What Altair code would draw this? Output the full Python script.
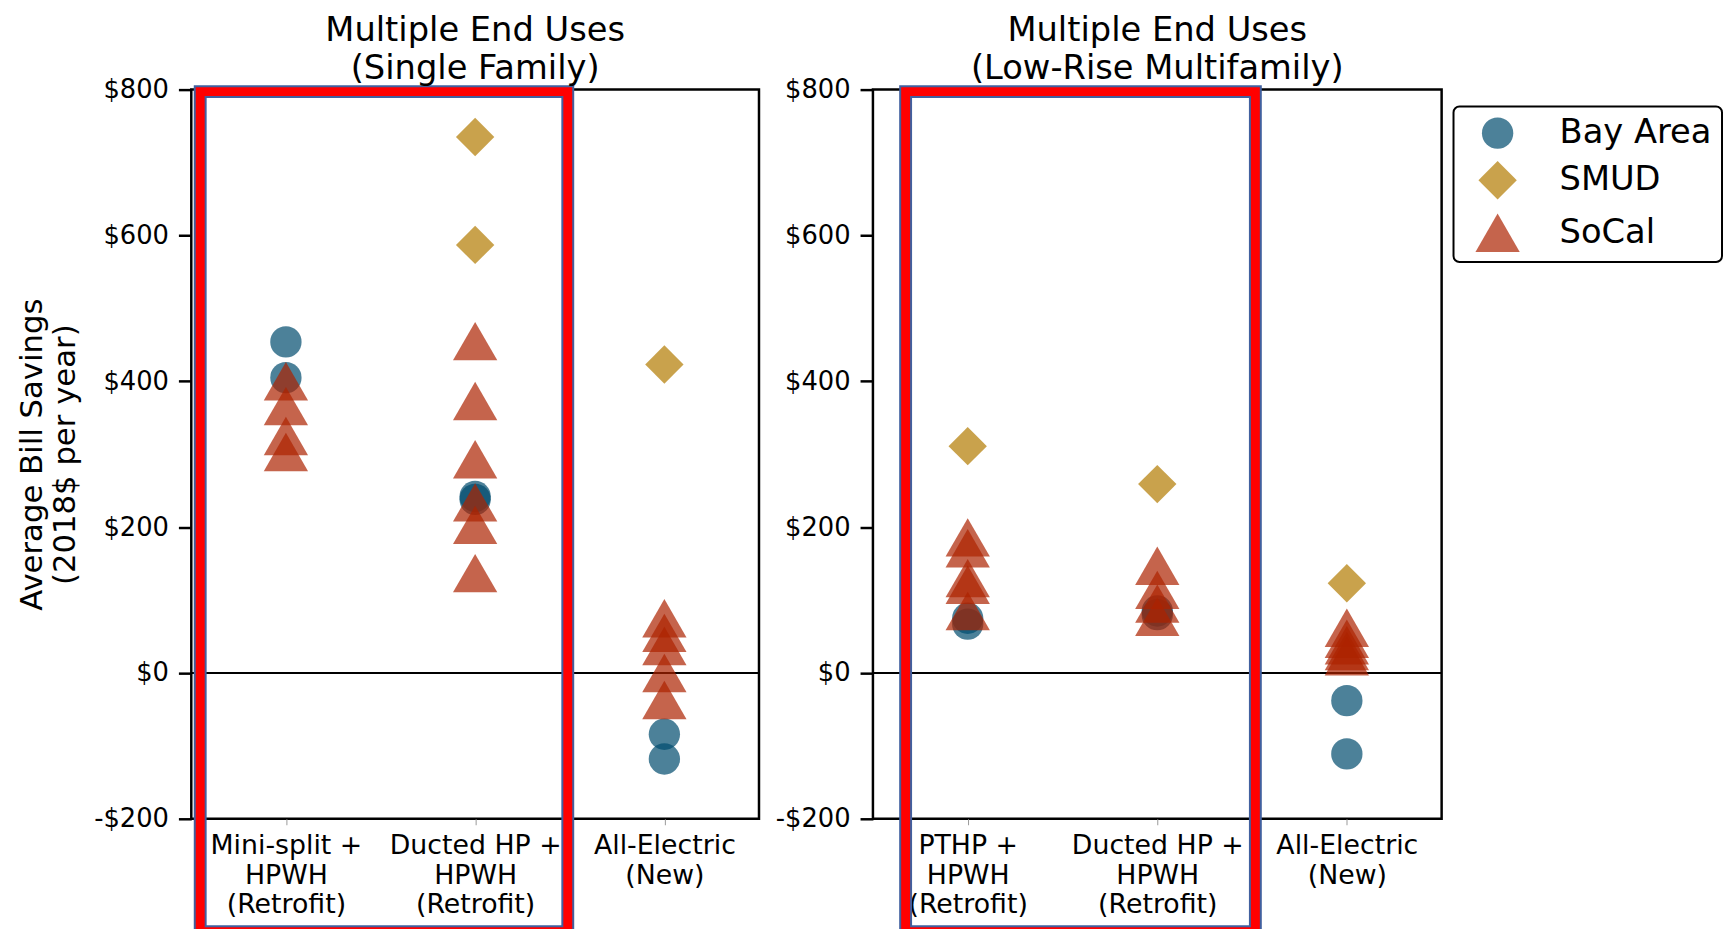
import altair as alt
import pandas as pd

FONT = "DejaVu Sans"

regions = ["Bay Area", "SMUD", "SoCal"]
region_colors = ["#004b6d", "#b27a00", "#ac2200"]
region_shapes = ["circle", "diamond", "triangle-up"]
region_sizes = [1000, 2000, 1100]

# Single family panel
sf_title = ["Multiple End Uses", "(Single Family)"]
sf_categories = ["Mini-split +\nHPWH\n(Retrofit)", "Ducted HP +\nHPWH\n(Retrofit)", "All-Electric\n(New)"]
sf_bay = [[454, 405], [242, 238], [-84, -118]]
sf_smud = [[], [735, 587], [423]]
sf_socal = [[400, 366, 325, 303], [455, 373, 293, 234, 203, 137], [75, 55, 37, 0, -37]]

# Low-rise multifamily panel
mf_title = ["Multiple End Uses", "(Low-Rise Multifamily)"]
mf_categories = ["PTHP +\nHPWH\n(Retrofit)", "Ducted HP +\nHPWH\n(Retrofit)", "All-Electric\n(New)"]
mf_bay = [[75, 67], [85, 80], [-38, -111]]
mf_smud = [[311], [259], [123]]
mf_socal = [[186, 171, 130, 121, 85], [147, 114, 95, 77], [62, 47, 38, 30, 23]]

y_ticks = [-200, 0, 200, 400, 600, 800]
y_title = ["Average Bill Savings", "(2018$ per year)"]


def make_df(cats, bay, smud, socal):
    rows = []
    for series, name in ((bay, "Bay Area"), (smud, "SMUD"), (socal, "SoCal")):
        for i, c in enumerate(cats):
            for v in series[i]:
                rows.append({"category": c, "region": name, "savings": v})
    return pd.DataFrame(rows)


def panel(cats, bay, smud, socal, title, show_y_title, box_x, width):
    df = make_df(cats, bay, smud, socal)
    y_axis_kwargs = dict(
        values=y_ticks,
        labelExpr="datum.value < 0 ? '-$' + format(-datum.value, 'd') : '$' + format(datum.value, 'd')",
        labelFontSize=26, labelColor="black", labelPadding=10,
        tickSize=13, tickWidth=2.5, tickColor="black",
        domain=False, grid=False,
    )
    if show_y_title:
        y_axis_kwargs.update(title=y_title, titleFontSize=31, titleFontWeight="normal",
                             titleColor="black", titlePadding=12, titleLineHeight=34)
    else:
        y_axis_kwargs.update(title=None)

    zero = alt.Chart(pd.DataFrame({"v": [0]})).mark_rule(color="black", strokeWidth=2).encode(
        y=alt.Y("v:Q")
    )
    pts = alt.Chart(df).mark_point(filled=True, opacity=0.7, strokeWidth=0).encode(
        x=alt.X("category:N", sort=cats, title=None,
                axis=alt.Axis(labelAngle=0, labelFontSize=27, labelColor="black",
                              labelExpr="split(datum.label, '\\n')", labelLineHeight=30,
                              labelBaseline="top", labelPadding=8,
                              tickSize=6, tickWidth=1, tickColor="#999999",
                              domain=False, grid=False)),
        y=alt.Y("savings:Q", scale=alt.Scale(domain=[-200, 800], nice=False, zero=False),
                axis=alt.Axis(**y_axis_kwargs)),
        color=alt.Color("region:N", scale=alt.Scale(domain=regions, range=region_colors), title=None),
        shape=alt.Shape("region:N", scale=alt.Scale(domain=regions, range=region_shapes), title=None),
        size=alt.Size("region:N", scale=alt.Scale(domain=regions, range=region_sizes), title=None),
    )
    one = pd.DataFrame({"a": [0]})
    box_blue = alt.Chart(one).mark_rect(fill="transparent", stroke="#41609f", strokeWidth=13).encode(
        x=alt.value(box_x[0]), x2=alt.value(box_x[1]), y=alt.value(2), y2=alt.value(850)
    )
    box_red = alt.Chart(one).mark_rect(fill="transparent", stroke="#ff0000", strokeWidth=9).encode(
        x=alt.value(box_x[0]), x2=alt.value(box_x[1]), y=alt.value(2), y2=alt.value(850)
    )
    return alt.layer(zero, pts, box_blue, box_red).properties(
        width=width, height=736,
        title=alt.TitleParams(title, fontSize=34, fontWeight="normal", anchor="middle",
                              color="black", lineHeight=38, offset=-9),
    )


left = panel(sf_categories, sf_bay, sf_smud, sf_socal, sf_title, True, (9, 380), 573)
right = panel(mf_categories, mf_bay, mf_smud, mf_socal, mf_title, False, (33, 386), 574)

chart = alt.hconcat(left, right, spacing=12).resolve_scale(x="independent").properties(
    padding={"left": 7, "top": 0, "right": 0, "bottom": 0}
).configure(font=FONT).configure_view(
    stroke="black", strokeWidth=2.5
).configure_legend(
    orient="none", legendX=1274, legendY=17,
    strokeColor="black", strokeWidth=2, cornerRadius=6, fillColor="white",
    padding=10, rowPadding=11, labelFontSize=34, labelColor="black", labelFont=FONT,
    symbolOffset=12, labelOffset=40, symbolOpacity=0.7, symbolStrokeWidth=0,
)

chart.save("out.html", embed_options={"renderer": "svg", "actions": False})
